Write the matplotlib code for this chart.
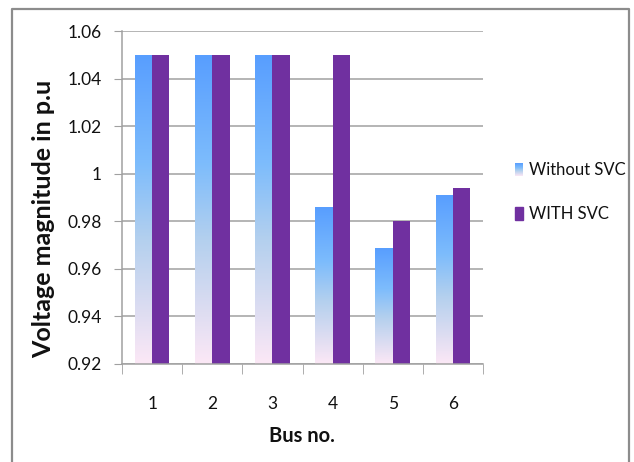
import numpy as np
import matplotlib.pyplot as plt
from matplotlib.colors import LinearSegmentedColormap
from matplotlib.patches import Rectangle
from matplotlib.lines import Line2D

buses = ["1", "2", "3", "4", "5", "6"]
without_svc = [1.05, 1.05, 1.05, 0.986, 0.9685, 0.991]
with_svc = [1.05, 1.05, 1.05, 1.05, 0.98, 0.994]
series_names = ["Without SVC", "WITH SVC"]
y_ticks = [0.92, 0.94, 0.96, 0.98, 1.0, 1.02, 1.04, 1.06]
y_tick_labels = ["0.92", "0.94", "0.96", "0.98", "1", "1.02", "1.04", "1.06"]

plt.rcParams['font.family'] = ['Lato', 'DejaVu Sans']

W, H = 634, 462
fig = plt.figure(figsize=(W / 100, H / 100), dpi=100)
ax = fig.add_axes([122.3 / W, 1 - 364 / H, 360.4 / W, 332.7 / H])

purple = "#7030A0"
blue_fade = LinearSegmentedColormap.from_list("blue_fade", [
    (0.0, (88 / 255, 158 / 255, 1.0)),
    (0.35, (125 / 255, 188 / 255, 252 / 255)),
    (0.6, (180 / 255, 208 / 255, 238 / 255)),
    (0.85, (225 / 255, 222 / 255, 242 / 255)),
    (1.0, (252 / 255, 232 / 255, 246 / 255)),
])
grad = blue_fade(np.linspace(0, 1, 256))[:, None, :3]

ymin, ymax = 0.92, 1.06
bw = 0.285
x = np.arange(1, len(buses) + 1)

for xi, v in zip(x, without_svc):
    ax.imshow(grad, extent=[xi - bw, xi, ymin, v], aspect='auto',
              interpolation='bilinear', zorder=2)
ax.bar(x + bw / 2, [v - ymin for v in with_svc], bw, bottom=ymin,
       color=purple, zorder=2)

ax.set_xlim(0.5, len(buses) + 0.5)
ax.set_ylim(ymin, ymax)

ax.set_yticks(y_ticks)
ax.set_yticklabels(y_tick_labels)
ax.yaxis.grid(True, color="#a0a0a0", linewidth=1.1)
ax.set_axisbelow(True)

ax.set_xticks(x)
ax.set_xticklabels(buses)
ax.set_xticks(np.arange(0.5, len(buses) + 1, 1), minor=True)
ax.tick_params(axis='x', which='major', length=0, pad=23, labelsize=12.5,
               labelcolor="#111111")
ax.tick_params(axis='x', which='minor', length=7, color="#a0a0a0")
ax.tick_params(axis='y', length=6, color="#a0a0a0", pad=9, labelsize=12.5,
               labelcolor="#111111")

for s in ["top", "right"]:
    ax.spines[s].set_visible(False)
for s in ["left", "bottom"]:
    ax.spines[s].set_color("#a0a0a0")
    ax.spines[s].set_linewidth(1.1)

fig.text(302 / W, 1 - 436 / H, "Bus no.", ha='center', va='center',
         fontsize=14.5, fontweight='bold', color="#111111")
fig.text(44 / W, 1 - 219 / H, "Voltage magnitude in p.u", ha='center',
         va='center', rotation=90, fontsize=18, fontweight='bold',
         color="#111111")

# legend drawn by hand so the first key can carry the fade
key_ax = fig.add_axes([515 / W, 1 - 176 / H, 8 / W, 13 / H])
key_ax.imshow(grad, aspect='auto', interpolation='bilinear')
key_ax.axis('off')
fig.patches.append(Rectangle((515 / W, 1 - 220 / H), 8 / W, 13 / H,
                             transform=fig.transFigure, color=purple))
fig.text(529 / W, 1 - 170 / H, series_names[0], va='center', fontsize=12,
         color="#111111")
fig.text(529 / W, 1 - 214 / H, series_names[1], va='center', fontsize=12,
         color="#111111")

# chart frame (bottom edge falls outside the image)
fig.lines.append(Line2D([12 / W, 12 / W, 628.5 / W, 628.5 / W],
                        [0, 1 - 9 / H, 1 - 9 / H, 0],
                        transform=fig.transFigure, color="#8c8c8c",
                        linewidth=1.6))

fig.savefig("out.png", dpi=100)
